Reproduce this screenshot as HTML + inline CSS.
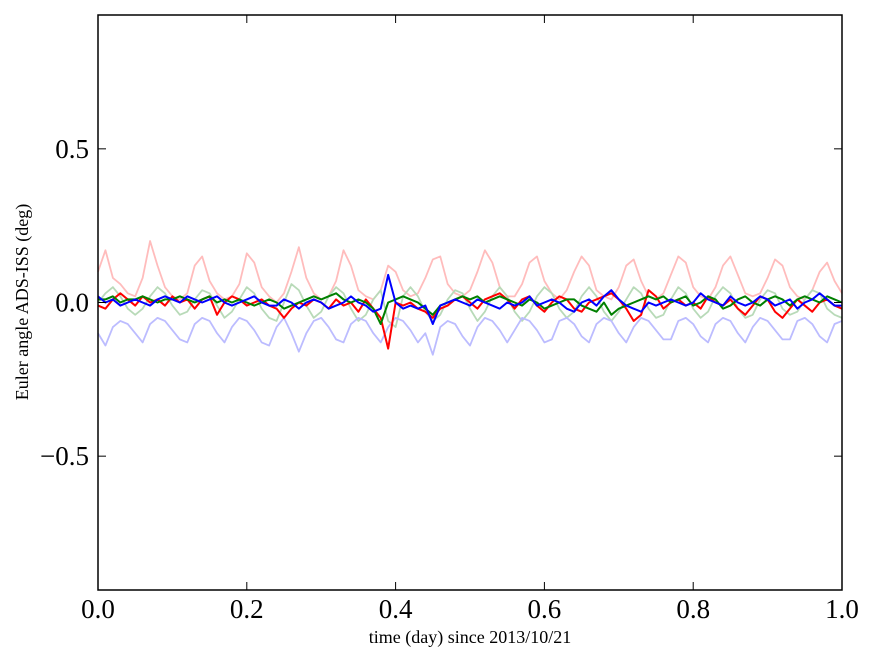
<!DOCTYPE html>
<html><head><meta charset="utf-8"><style>
body{margin:0;background:#fff;width:875px;height:662px;overflow:hidden}
svg text{font-family:"Liberation Serif",serif;fill:#000}
</style></head><body>
<svg id="chart" width="875" height="662" viewBox="0 0 875 662" xmlns="http://www.w3.org/2000/svg"></svg>
<script>
const xTicks=[0.0,0.2,0.4,0.6,0.8,1.0];
const xTickLabels=["0.0","0.2","0.4","0.6","0.8","1.0"];
const yTicks=[0.5,0.0,-0.5];
const yTickLabels=["0.5","0.0","\u22120.5"];
const lightRed=[0.10,0.17,0.08,0.06,0.03,0.02,0.08,0.20,0.12,0.05,0.02,0.01,0.03,0.12,0.15,0.07,0.03,0.01,0.02,0.06,0.16,0.13,0.05,0.02,0.00,0.03,0.10,0.18,0.08,0.03,0.01,0.02,0.07,0.17,0.12,0.04,0.02,0.01,0.04,0.12,0.10,0.04,0.02,0.03,0.08,0.14,0.15,0.06,0.03,0.02,0.04,0.10,0.17,0.13,0.05,0.02,0.02,0.06,0.13,0.15,0.07,0.03,0.01,0.04,0.10,0.15,0.12,0.04,0.02,0.01,0.05,0.12,0.14,0.07,0.02,0.01,0.03,0.09,0.15,0.13,0.05,0.02,0.01,0.05,0.12,0.15,0.09,0.03,0.02,0.03,0.08,0.14,0.12,0.05,0.02,0.01,0.04,0.10,0.13,0.07,0.03];
const lightBlue=[-0.10,-0.14,-0.08,-0.06,-0.07,-0.10,-0.13,-0.07,-0.05,-0.06,-0.09,-0.12,-0.13,-0.07,-0.05,-0.06,-0.10,-0.13,-0.08,-0.05,-0.06,-0.09,-0.13,-0.14,-0.08,-0.05,-0.10,-0.16,-0.10,-0.06,-0.05,-0.08,-0.12,-0.13,-0.07,-0.05,-0.06,-0.10,-0.13,-0.08,-0.05,-0.06,-0.09,-0.13,-0.10,-0.17,-0.08,-0.06,-0.07,-0.11,-0.14,-0.08,-0.05,-0.06,-0.09,-0.13,-0.09,-0.05,-0.06,-0.09,-0.13,-0.12,-0.06,-0.05,-0.07,-0.11,-0.13,-0.07,-0.05,-0.06,-0.10,-0.13,-0.08,-0.05,-0.06,-0.09,-0.12,-0.12,-0.06,-0.05,-0.07,-0.11,-0.13,-0.07,-0.05,-0.06,-0.10,-0.13,-0.08,-0.05,-0.06,-0.09,-0.12,-0.12,-0.06,-0.05,-0.07,-0.11,-0.13,-0.07,-0.06];
const lightGreen=[0.00,0.03,0.05,0.02,-0.02,-0.04,-0.02,0.02,0.05,0.03,-0.01,-0.04,-0.03,0.01,0.04,0.03,-0.01,-0.05,-0.03,0.01,0.05,0.03,-0.02,-0.05,-0.06,0.00,0.06,0.04,-0.01,-0.05,-0.03,0.02,0.05,0.03,-0.02,-0.06,-0.04,0.01,0.04,-0.06,-0.08,0.02,0.05,0.02,-0.03,-0.06,-0.04,0.01,0.04,0.03,-0.02,-0.06,-0.03,0.02,0.05,0.02,-0.03,-0.06,-0.03,0.02,0.05,0.03,-0.02,-0.05,-0.03,0.02,0.05,0.02,-0.03,-0.06,-0.03,0.01,0.05,0.03,-0.02,-0.05,-0.04,0.01,0.05,0.03,-0.02,-0.05,-0.03,0.02,0.05,0.03,-0.02,-0.05,-0.04,0.01,0.04,0.03,-0.02,-0.04,-0.03,0.01,0.04,0.03,-0.02,-0.04,-0.05];
const darkRed=[-0.01,-0.02,0.01,0.03,0.01,-0.01,0.02,0.00,0.01,-0.01,0.02,0.00,0.01,-0.02,0.01,0.02,-0.04,0.00,0.02,0.01,-0.01,0.00,0.01,-0.01,-0.02,-0.05,-0.02,0.00,-0.01,0.01,0.00,-0.02,0.01,-0.01,0.00,-0.03,0.01,-0.02,-0.05,-0.15,0.00,-0.01,0.00,-0.02,-0.03,-0.05,-0.02,-0.01,0.01,0.02,0.00,-0.02,0.01,0.02,0.03,0.01,-0.02,0.01,0.02,-0.01,-0.03,0.00,0.02,0.01,-0.02,-0.03,0.00,0.01,0.02,0.03,0.01,-0.02,-0.06,-0.04,0.04,0.02,-0.02,0.00,0.01,-0.01,0.00,-0.02,0.02,0.00,-0.01,0.01,-0.02,-0.04,-0.01,0.02,0.01,-0.03,-0.05,-0.02,0.01,-0.01,-0.03,0.00,0.01,-0.01,-0.02];
const darkGreen=[0.01,0.01,0.02,0.00,0.01,0.01,0.02,0.01,0.00,0.01,0.01,0.02,0.01,0.00,0.01,0.02,0.00,0.01,0.00,0.01,0.00,-0.01,0.00,0.01,0.00,-0.02,-0.01,0.00,0.01,0.02,0.01,0.02,0.03,0.01,0.00,0.01,0.00,-0.02,-0.07,0.00,0.01,0.02,0.01,0.00,-0.02,-0.04,-0.01,0.00,0.01,0.02,0.01,0.02,0.00,0.01,0.02,0.01,0.00,-0.01,0.01,0.00,-0.02,-0.01,0.00,0.01,0.01,-0.01,-0.02,-0.03,0.00,-0.04,-0.02,-0.01,0.00,0.01,0.02,0.01,0.02,0.00,0.01,0.02,-0.01,0.00,0.02,0.01,-0.02,-0.01,0.01,0.02,0.00,-0.01,0.01,0.02,0.01,-0.01,0.01,0.02,0.01,0.00,0.02,0.01,0.00];
const darkBlue=[0.02,0.00,0.01,-0.01,0.00,0.01,0.00,-0.01,0.01,0.02,0.01,0.00,0.02,0.01,0.00,0.01,0.02,0.00,-0.01,0.00,0.01,0.02,0.00,-0.01,-0.01,0.01,0.00,-0.02,0.00,0.01,0.00,-0.02,-0.01,0.00,0.02,0.00,-0.01,-0.03,-0.02,0.09,0.00,-0.02,-0.01,-0.02,-0.01,-0.07,-0.01,0.00,0.01,0.00,-0.01,0.01,0.00,-0.01,-0.02,0.00,-0.01,0.00,0.02,-0.01,0.00,0.01,0.00,-0.02,-0.03,0.00,0.01,-0.01,0.02,0.04,0.01,-0.01,-0.02,-0.03,0.00,-0.01,0.00,0.01,0.00,-0.01,0.00,0.03,0.01,0.00,-0.01,0.02,0.00,-0.01,0.00,0.02,0.01,-0.01,0.00,0.01,-0.02,0.00,0.01,0.03,0.01,-0.01,-0.01];

const L=98,R=842,T=15,B=590;
const xMin=0,xMax=1,yMin=-0.9355,yMax=0.9355;
const sx=v=>L+(v-xMin)/(xMax-xMin)*(R-L);
const sy=v=>B-(v-yMin)/(yMax-yMin)*(B-T);
const svg=document.getElementById('chart');
const NS='http://www.w3.org/2000/svg';
function mk(tag,attrs){const e=document.createElementNS(NS,tag);for(const k in attrs)e.setAttribute(k,attrs[k]);svg.appendChild(e);return e;}

function series(arr,color,name,w){
  const pts=arr.map((v,i)=>sx(i/(arr.length-1))+','+sy(v)).join(' ');
  const p=mk('polyline',{points:pts,fill:'none',stroke:color,'stroke-width':w,'stroke-linejoin':'round'});
  
  
}
series(lightRed,'#ffbcbc','light-red-series',1.8);
series(lightGreen,'#b8dab8','light-green-series',1.8);
series(lightBlue,'#bcbcff','light-blue-series',1.8);
series(darkRed,'#ff0000','red-series',2);
series(darkGreen,'#008000','green-series',2);
series(darkBlue,'#0000ff','blue-series',2);

const frame=mk('rect',{x:L,y:T,width:R-L,height:B-T,fill:'none',stroke:'#000','stroke-width':1.5});



xTicks.forEach((v,i)=>{
  const x=sx(v);
  mk('line',{x1:x,y1:B,x2:x,y2:B-8,stroke:'#000'});
  mk('line',{x1:x,y1:T,x2:x,y2:T+8,stroke:'#000'});
  const t=mk('text',{x:x,y:B+28,'font-size':27,'text-anchor':'middle'});
  t.textContent=xTickLabels[i];
  
  
});
yTicks.forEach((v,i)=>{
  const y=sy(v);
  mk('line',{x1:L,y1:y,x2:L+8,y2:y,stroke:'#000'});
  mk('line',{x1:R,y1:y,x2:R-8,y2:y,stroke:'#000'});
  const t=mk('text',{x:L-9,y:y+9,'font-size':27,'text-anchor':'end'});
  t.textContent=yTickLabels[i];
  
  
});
const xt=mk('text',{x:(L+R)/2,y:643,'font-size':18,'text-anchor':'middle'});
xt.textContent='time (day) since 2013/10/21';


const yt=mk('text',{x:0,y:0,'font-size':18,'text-anchor':'middle',transform:'translate(28,302) rotate(-90)'});
yt.textContent='Euler angle ADS-ISS (deg)';


</script>
</body></html>
